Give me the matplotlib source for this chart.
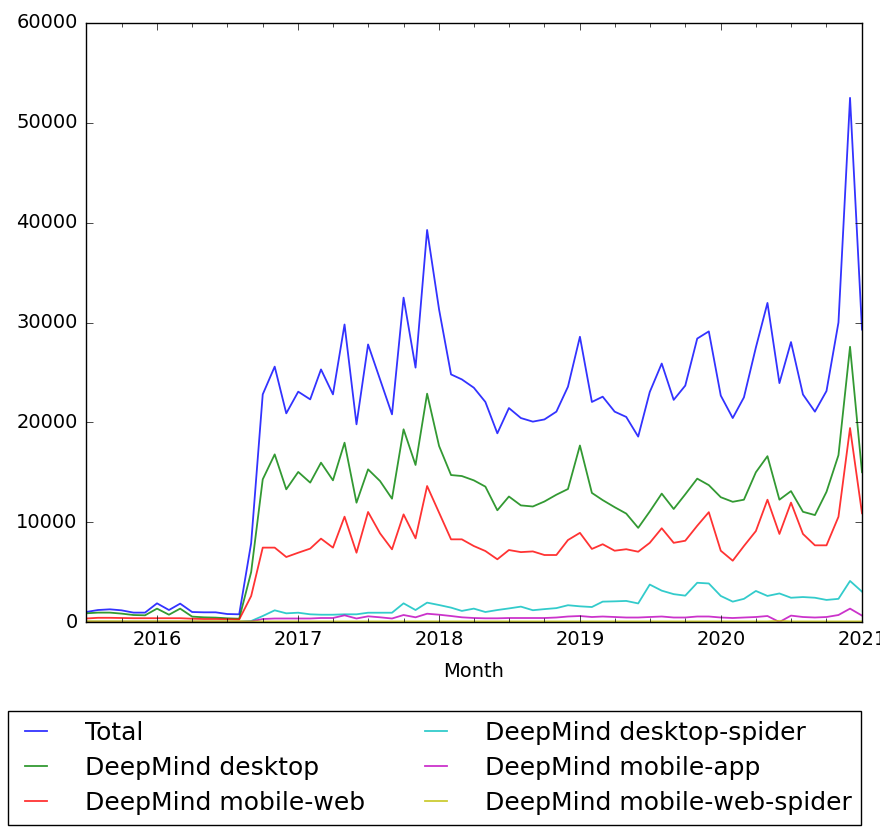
import matplotlib
matplotlib.use("Agg")
import matplotlib.pyplot as plt
import matplotlib.dates as mdates
import numpy as np
import pandas as pd

months = pd.date_range("2015-07-01", "2021-01-01", freq="MS")

total = [1000, 1200, 1270, 1170, 940, 940, 1870, 1200, 1840, 1000, 970, 970, 800, 770,
         7900,
         22800, 25580, 20900, 23070, 22300, 25300, 22800, 29800, 19800, 27800, 24300,
         20800, 32490, 25480, 39270, 31300, 24800, 24300, 23470, 22040, 18900,
         21430, 20430, 20070, 20290, 21070, 23570, 28570, 22040, 22570, 21070, 20540,
         18570, 23040, 25890, 22250, 23680, 28390, 29110, 22680, 20430, 22500, 27500,
         31960, 23930, 28040, 22790, 21070, 23140, 30000, 52500, 29290]
desktop = [870, 940, 940, 840, 700, 670, 1340, 730, 1340, 540, 470, 440, 370, 330,
           5000,
           14290, 16790, 13290, 15030, 13960, 15960, 14190, 17960, 11950, 15290, 14120,
           12350, 19300, 15730, 22870, 17630, 14720, 14620, 14190, 13560, 11190,
           12570, 11680, 11570, 12070, 12750, 13320, 17680, 12930, 12210, 11500, 10860,
           9430, 11070, 12860, 11320, 12790, 14360, 13710, 12500, 12040, 12250, 15000,
           16610, 12250, 13110, 11040, 10710, 13040, 16710, 27570, 15000]
mobile_web = [350, 420, 420, 400, 380, 380, 380, 380, 380, 330, 300, 300, 280, 250,
              2600,
              7450, 7450, 6510, 6940, 7350, 8350, 7450, 10550, 6940, 11020, 8880,
              7280, 10780, 8380, 13620, 10950, 8280, 8280, 7610, 7110, 6280,
              7210, 7000, 7070, 6710, 6710, 8210, 8930, 7320, 7790, 7140, 7290,
              7040, 7930, 9390, 7930, 8140, 9640, 11000, 7140, 6140, 7610, 9110,
              12250, 8820, 11960, 8820, 7680, 7680, 10540, 19430, 10890]
desktop_spider = [30, 30, 30, 30, 30, 30, 30, 30, 30, 30, 30, 30, 30, 30,
                  100,
                  600, 1170, 870, 930, 770, 730, 730, 770, 770, 930, 930,
                  930, 1870, 1200, 1940, 1700, 1440, 1110, 1340, 1000, 1200,
                  1360, 1540, 1180, 1290, 1390, 1680, 1570, 1500, 2040, 2070, 2110,
                  1860, 3750, 3140, 2790, 2640, 3930, 3860, 2610, 2040, 2320, 3110,
                  2610, 2860, 2430, 2500, 2430, 2210, 2320, 4110, 3040]
mobile_app = [20, 20, 20, 20, 20, 20, 20, 20, 20, 20, 20, 20, 20, 20,
              50,
              300, 350, 350, 350, 350, 400, 400, 670, 350, 570, 470,
              350, 700, 470, 830, 730, 600, 470, 400, 370, 370,
              400, 400, 400, 400, 450, 550, 600, 500, 550, 500, 450,
              450, 500, 550, 450, 450, 550, 550, 450, 400, 450, 500,
              600, 0, 640, 500, 450, 500, 700, 1340, 640]
mobile_web_spider = [80, 80, 80, 80, 80, 80, 80, 80, 80, 80, 80, 80, 80, 80,
                     60,
                     60, 60, 60, 60, 60, 60, 60, 60, 60, 60, 60,
                     60, 60, 60, 60, 60, 60, 60, 60, 60, 60,
                     60, 60, 60, 60, 60, 60, 60, 60, 60, 60, 60,
                     60, 60, 60, 60, 60, 60, 60, 60, 60, 60, 60,
                     60, 120, 60, 60, 60, 60, 60, 60, 60]

series = [
    ("Total", total, "b"),
    ("DeepMind desktop", desktop, "g"),
    ("DeepMind mobile-web", mobile_web, "r"),
    ("DeepMind desktop-spider", desktop_spider, "c"),
    ("DeepMind mobile-app", mobile_app, "m"),
    ("DeepMind mobile-web-spider", mobile_web_spider, "y"),
]

plt.style.use("classic")
plt.rcParams["font.family"] = ["DejaVu Sans"]
plt.rcParams["font.size"] = 14

fig = plt.figure(figsize=(8.8, 8.35), dpi=100, facecolor="white")
ax = fig.add_axes([86 / 880, 1 - 622 / 835, (862 - 86) / 880, (622 - 23) / 835])

for label, vals, col in series:
    ax.plot(months, vals, color=col, lw=1.3, alpha=0.8, label=label)

ax.set_xlim(months[0], months[-1])
ax.set_ylim(0, 60000)
ax.set_yticks(np.arange(0, 60001, 10000))
ax.xaxis.set_major_locator(mdates.YearLocator())
ax.xaxis.set_major_formatter(mdates.DateFormatter("%Y"))
ax.xaxis.set_minor_locator(mdates.MonthLocator(bymonth=[1, 4, 7, 10]))
ax.tick_params(axis="both", which="major", labelsize=14, length=5, direction="in",
               top=True, right=True, pad=6)
ax.tick_params(axis="x", which="minor", length=3, direction="in", top=True)
ax.set_xlabel("Month", fontsize=14, labelpad=9)

fig.legend(loc="upper center", bbox_to_anchor=(0.494, 1 - 711 / 835), ncol=2,
           fontsize=18, handlelength=1.48, handletextpad=1.2, columnspacing=2.1,
           labelspacing=0.44, frameon=True, fancybox=False, edgecolor="black",
           borderpad=0.4, borderaxespad=0)

fig.savefig("out.png", dpi=100, facecolor="white")
